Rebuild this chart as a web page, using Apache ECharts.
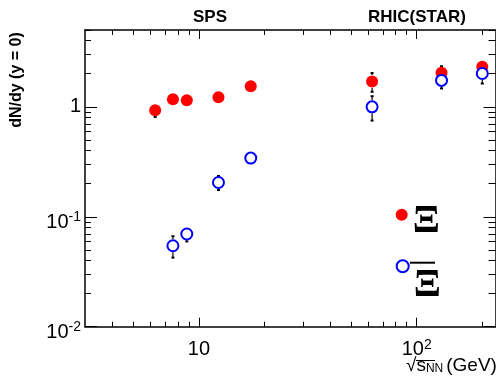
<!DOCTYPE html>
<html><head><meta charset="utf-8">
<script src="https://cdn.jsdelivr.net/npm/echarts@6/dist/echarts.min.js"></script>
<style>html,body{margin:0;padding:0;background:#fff}#c{width:496px;height:382px}</style>
</head><body><div id="c"></div>
<script>
// ---- data ----
const xiEnergies = [6.3, 7.6, 8.8, 12.3, 17.3, 62.4, 130, 200];
const xiYield = [0.93, 1.17, 1.15, 1.22, 1.54, 1.70, 2.04, 2.31];
const xiErr = [0.12, 0.07, 0.07, 0.08, 0.05, 0.33, 0.30, 0.30];
const antiXiEnergies = [7.6, 8.8, 12.3, 17.3, 62.4, 130, 200];
const antiXiYield = [0.0545, 0.0697, 0.205, 0.342, 1.0, 1.74, 2.01];
const antiXiErr = [0.012, 0.010, 0.030, 0.025, 0.25, 0.27, 0.38];
const xMajorTicks = [10, 100];
const xMinorTicks = [4, 5, 6, 7, 8, 9, 20, 30, 40, 50, 60, 70, 80, 90, 200];
const yMajorTicks = [0.01, 0.1, 1];
const yMinorTicks = [0.02, 0.03, 0.04, 0.05, 0.06, 0.07, 0.08, 0.09, 0.2, 0.3, 0.4, 0.5, 0.6, 0.7, 0.8, 0.9, 2, 3, 4, 5];
const xRange = [3, 230];
const yRange = [0.01, 5];
const seriesNames = ['Ξ', 'antiΞ'];
const topLabels = ['SPS', 'RHIC(STAR)'];

// ---- build ----
const L = Math.log10;
const FONT = 'Liberation Sans';
const zip = (a, b, c) => a.map((v, i) => [v, b[i], c[i]]);

function xLabel(v) {
  const e = Math.round(v);
  if (e === 1) return '{b|10}';
  return '{b|10}{s|' + e + '}';
}
function yLabel(v) {
  const e = Math.round(v);
  if (e === 0) return '{o|1}';
  return '{b|10}{s|' + e + '}';
}
const richX = {
  b: { fontFamily: FONT, fontSize: 20, color: '#000', lineHeight: 22, verticalAlign: 'bottom' },
  s: { fontFamily: FONT, fontSize: 14, color: '#000', lineHeight: 14, verticalAlign: 'top' }
};
const richY = {
  o: { fontFamily: FONT, fontSize: 20, color: '#000', lineHeight: 20 },
  b: { fontFamily: FONT, fontSize: 20, color: '#000', lineHeight: 20, padding: [12, 0, 0, 0], verticalAlign: 'bottom' },
  s: { fontFamily: FONT, fontSize: 14, color: '#000', lineHeight: 32, verticalAlign: 'middle' }
};

function tickAxis(dim, pos, ticks, len, withLine, labelVals) {
  const isX = dim === 'x';
  const ext = isX ? [L(xRange[0]), L(xRange[1])] : [L(yRange[0]), L(yRange[1])];
  return {
    type: 'value', position: pos, min: ext[0], max: ext[1], gridIndex: 0,
    axisLine: { show: withLine, onZero: false, lineStyle: { color: '#000', width: 1.5 } },
    axisTick: { show: true, inside: true, length: len, customValues: ticks.map(L), lineStyle: { color: '#000', width: 1 } },
    axisLabel: labelVals ? { show: true, customValues: labelVals.map(L), formatter: isX ? xLabel : yLabel,
      margin: isX ? 11 : 4, rich: isX ? richX : richY } : { show: false },
    splitLine: { show: false }
  };
}

function errRender(params, api) {
  const x = api.value(0), y = api.value(1), e = api.value(2);
  const c = api.coord([x, y]);
  const t = api.coord([x, y + e]);
  const b = api.coord([x, y - e]);
  const r = 6.5;
  const st = { stroke: '#000', lineWidth: 1.2 };
  const ch = [];
  if (t[1] < c[1] - r) {
    ch.push({ type: 'line', shape: { x1: c[0], y1: c[1] - r, x2: t[0], y2: t[1] }, style: st });
    ch.push({ type: 'line', shape: { x1: c[0] - 1.5, y1: t[1], x2: c[0] + 1.5, y2: t[1] }, style: { stroke: '#000', lineWidth: 2 } });
  }
  if (b[1] > c[1] + r) {
    ch.push({ type: 'line', shape: { x1: c[0], y1: c[1] + r, x2: b[0], y2: b[1] }, style: st });
    ch.push({ type: 'line', shape: { x1: c[0] - 1.5, y1: b[1], x2: c[0] + 1.5, y2: b[1] }, style: { stroke: '#000', lineWidth: 2 } });
  }
  return { type: 'group', children: ch };
}

const xiStyle = { fontFamily: 'Liberation Serif', fontWeight: 'bold', fontSize: 40, lineHeight: 30, color: '#000' };
const xiRich = { xi: Object.assign({}, xiStyle, { padding: [14.4, 0, 0, 0] }) };
const axiRich = { xi: Object.assign({}, xiStyle, { padding: [39, 0, 0, 0] }) };

const option = {
  animation: false,
  backgroundColor: '#fff',
  grid: { left: 85, top: 30, right: 0.5, bottom: 55.3, containLabel: false },
  xAxis: [
    { type: 'log', min: xRange[0], max: xRange[1], position: 'bottom', show: false, gridIndex: 0 },
    tickAxis('x', 'bottom', xMajorTicks, 9, true, xMajorTicks),
    tickAxis('x', 'bottom', xMinorTicks, 5, false),
    tickAxis('x', 'top', xMajorTicks, 9, true),
    tickAxis('x', 'top', xMinorTicks, 5, false)
  ],
  yAxis: [
    { type: 'log', min: yRange[0], max: yRange[1], position: 'left', show: false, gridIndex: 0 },
    tickAxis('y', 'left', yMajorTicks, 12, true, yMajorTicks),
    tickAxis('y', 'left', yMinorTicks, 6, false),
    tickAxis('y', 'right', yMajorTicks, 12, true),
    tickAxis('y', 'right', yMinorTicks, 7, false)
  ],
  legend: [
    {
      data: [seriesNames[0]], left: 395.7, top: 187.6, padding: 0, itemWidth: 12, itemHeight: 12,
      selectedMode: false, formatter: () => '{xi|Ξ}', textStyle: { rich: xiRich }
    },
    {
      data: [seriesNames[1]], left: 395.7, top: 226.7, padding: 0, itemWidth: 12, itemHeight: 12,
      selectedMode: false, formatter: () => '{xi|Ξ}', textStyle: { rich: axiRich }
    }
  ],
  series: [
    { type: 'custom', xAxisIndex: 0, yAxisIndex: 0, renderItem: errRender, data: zip(xiEnergies, xiYield, xiErr), z: 1, silent: true },
    { type: 'custom', xAxisIndex: 0, yAxisIndex: 0, renderItem: errRender, data: zip(antiXiEnergies, antiXiYield, antiXiErr), z: 1, silent: true },
    { name: seriesNames[0], type: 'scatter', xAxisIndex: 0, yAxisIndex: 0, symbol: 'circle', symbolSize: 12,
      itemStyle: { color: '#ff0000', opacity: 1 }, data: xiEnergies.map((x, i) => [x, xiYield[i]]), z: 3 },
    { name: seriesNames[1], type: 'scatter', xAxisIndex: 0, yAxisIndex: 0, symbol: 'emptyCircle', symbolSize: 11,
      itemStyle: { color: '#0000ff', borderColor: '#0000ff', borderWidth: 1.5, opacity: 1 }, data: antiXiEnergies.map((x, i) => [x, antiXiYield[i]]), z: 4 }
  ],
  graphic: [
    { type: 'text', left: 193, top: 9, style: { text: topLabels[0], font: 'bold 17px ' + FONT, fill: '#000' } },
    { type: 'text', left: 368, top: 9, style: { text: topLabels[1], font: 'bold 17px ' + FONT, fill: '#000' } },
    { type: 'text', x: 17, y: 80, rotation: Math.PI / 2, style: { text: 'dN/dy (y = 0)', font: 'bold 16px ' + FONT, fill: '#000', align: 'center', verticalAlign: 'middle' } },
    { type: 'text', left: 406, top: 356, style: {
        text: '{r|√}{s|s}{n|NN}{g|(GeV)}',
        rich: {
          r: { fontFamily: FONT, fontSize: 19, lineHeight: 22, verticalAlign: 'bottom', fill: '#000' },
          s: { fontFamily: FONT, fontSize: 19, lineHeight: 22, verticalAlign: 'bottom', fill: '#000' },
          n: { fontFamily: FONT, fontSize: 12, lineHeight: 13, verticalAlign: 'bottom', fill: '#000' },
          g: { fontFamily: FONT, fontSize: 19, lineHeight: 22, verticalAlign: 'bottom', fill: '#000', padding: [0, 0, 0, 3] }
        } } },
    { type: 'line', shape: { x1: 416, y1: 360.5, x2: 435, y2: 360.5 }, style: { stroke: '#000', lineWidth: 1 } },
    { type: 'line', shape: { x1: 410, y1: 262.7, x2: 435, y2: 262.7 }, style: { stroke: '#000', lineWidth: 2 } }
  ]
};

const chart = echarts.init(document.getElementById('c'), null, { renderer: 'canvas' });
chart.setOption(option);
</script>
</body></html>
